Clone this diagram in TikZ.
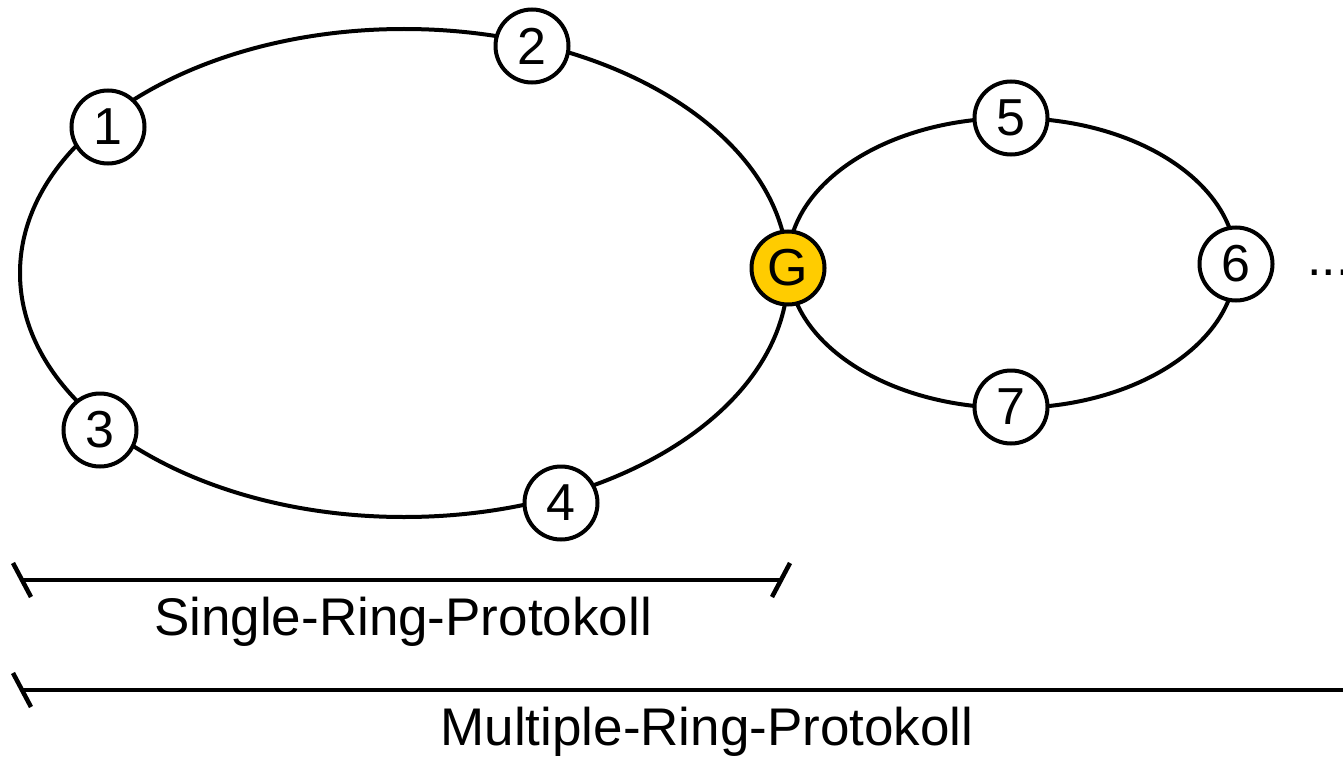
\documentclass[tikz,border=0pt]{standalone}
\usepackage{fontspec}
\setmainfont{Liberation Sans}
\usetikzlibrary{calc}
\definecolor{gold}{HTML}{FFCC00}
\tikzset{
  ringnode/.style={circle, draw=black, line width=4pt, fill=white, minimum size=73pt, inner sep=0pt, font=\fontsize{52}{60}\selectfont},
  gwnode/.style={ringnode, fill=gold},
  ringline/.style={line width=4pt},
  spanline/.style={line width=4.5pt},
  lbl/.style={font=\fontsize{53}{62}\selectfont, inner sep=0pt, anchor=base}
}
\begin{document}
\begin{tikzpicture}[x=1pt, y=-1pt]
\useasboundingbox (0,0) rectangle (1343,757);
% rings
\draw[ringline] (404,273) ellipse [x radius=384pt, y radius=244pt];
\draw[ringline] (1012,263) ellipse [x radius=224pt, y radius=145pt];
% nodes
\node[ringnode] (n1) at (108,127) {1};
\node[ringnode] (n2) at (532,46) {2};
\node[ringnode] (n3) at (100,430) {3};
\node[ringnode] (n4) at (561,503) {4};
\node[gwnode]   (G)  at (788,268) {G};
\node[ringnode] (n5) at (1011,118) {5};
\node[ringnode] (n6) at (1236,264) {6};
\node[ringnode] (n7) at (1011,407) {7};
\node[font=\fontsize{52}{60}\selectfont, inner sep=0pt, anchor=base west] (dots) at (1307,275) {....};
% spans
\coordinate (s1) at (22,580);
\coordinate (s2) at (781,580);
\draw[spanline] (s1) -- (s2);
\draw[spanline] ($(s1)+(-9,-17)$) -- ($(s1)+(9,17)$);
\draw[spanline] ($(s2)+(9,-17)$) -- ($(s2)+(-9,17)$);
\node[lbl] (single) at (403,635) {Single-Ring-Protokoll};
\coordinate (m1) at (22,690);
\coordinate (m2) at (1360,690);
\draw[spanline] (m1) -- (m2);
\draw[spanline] ($(m1)+(-9,-17)$) -- ($(m1)+(9,17)$);
\node[lbl] (multi) at (707,745) {Multiple-Ring-Protokoll};
\end{tikzpicture}
\end{document}
